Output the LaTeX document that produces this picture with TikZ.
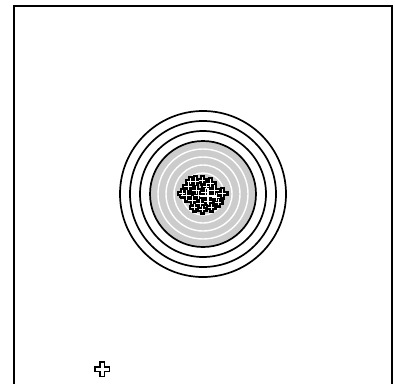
\documentclass[tikz,border=0pt]{standalone}
\begin{document}
\begin{tikzpicture}[x=1pt,y=-1pt,
  ring/.style={draw=black,line width=1.7pt},
  wring/.style={draw=white,line width=1.4pt},
  pk/.style={line width=5pt,black,line cap=rect},
  pw/.style={line width=0.8pt,white,line cap=rect}]
\useasboundingbox (0,0) rectangle (395,383);
\fill[white] (0,0) rectangle (395,383);
\draw[line width=2pt] (14,390) -- (14,6) -- (392,6) -- (392,390);
\coordinate (c) at (203,194);
\foreach \r in {83,73,63} \draw[ring] (c) circle (\r);
\fill[black!20] (c) circle (53);
\draw[ring] (c) circle (53);
\foreach \r in {45,37,29,21,13} \draw[wring] (c) circle (\r);
% central cluster of plus marks
\foreach \x/\y/\s in {188/186/4,195/181/4,202/180/3,210/183/4,214/190/5,196/190/4,186/195/5,192/200/4,200/203/4,208/201/4,216/197/4,222/193/4,182/193/3,198/195/4,205/192/4,211/207/3,202/209/3,194/207/3,218/202/3,190/181/3,206/186/3}{
  \draw[pk] (\x-\s,\y) -- (\x+\s,\y) (\x,\y-\s) -- (\x,\y+\s);
}
\foreach \x/\y/\s in {188/186/4,195/181/4,202/180/3,210/183/4,214/190/5,196/190/4,186/195/5,192/200/4,200/203/4,208/201/4,216/197/4,222/193/4,182/193/3,198/195/4,205/192/4,211/207/3,202/209/3,194/207/3,218/202/3,190/181/3,206/186/3}{
  \draw[pw] (\x-\s,\y) -- (\x+\s,\y) (\x,\y-\s) -- (\x,\y+\s);
}
\draw[line width=1.4pt,white] (200,196) -- (216,196) (208,188) -- (208,204);
% lone plus at bottom
\draw[line width=6pt,black] (94,369) -- (110,369) (102,361) -- (102,377);
\draw[line width=3pt,white] (95.5,369) -- (108.5,369) (102,362.5) -- (102,375.5);
\end{tikzpicture}
\end{document}
